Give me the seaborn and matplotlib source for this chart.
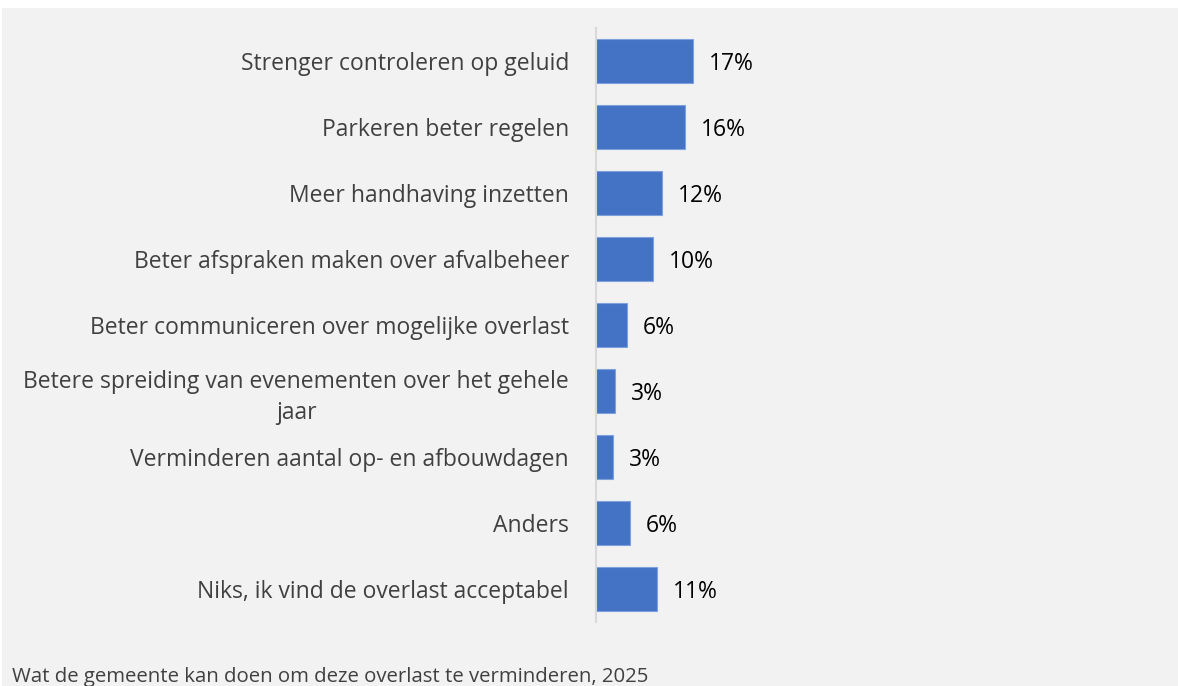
import matplotlib
matplotlib.use("Agg")
import matplotlib.pyplot as plt
import seaborn as sns
import pandas as pd
from matplotlib.patches import Rectangle

# Data
categories = [
    "Strenger controleren op geluid",
    "Parkeren beter regelen",
    "Meer handhaving inzetten",
    "Beter afspraken maken over afvalbeheer",
    "Beter communiceren over mogelijke overlast",
    "Betere spreiding van evenementen over het gehele\njaar",
    "Verminderen aantal op- en afbouwdagen",
    "Anders",
    "Niks, ik vind de overlast acceptabel",
]
values = [17.0, 15.6, 11.65, 10.0, 5.4, 3.3, 3.0, 5.9, 10.7]
value_labels = ["17%", "16%", "12%", "10%", "6%", "3%", "3%", "6%", "11%"]
footer = "Wat de gemeente kan doen om deze overlast te verminderen, 2025"

df = pd.DataFrame({"categorie": categories, "waarde": values})

sns.set_theme(style="white")
plt.rcParams["font.family"] = ["Open Sans", "DejaVu Sans"]

W, H = 1178, 686
fig = plt.figure(figsize=(W / 100, H / 100), dpi=100, facecolor="white")
fig.patches.append(Rectangle((2 / W, 0), 1, 1 - 8 / H, transform=fig.transFigure,
                             facecolor="#f2f2f2", edgecolor="none", zorder=-10))

left_px, top_px, bottom_px = 596, 28, 622
px_per_pct = 5.69
right_px = 1150
ax = fig.add_axes([left_px / W, 1 - bottom_px / H,
                   (right_px - left_px) / W, (bottom_px - top_px) / H])
ax.set_facecolor("none")

sns.barplot(data=df, x="waarde", y="categorie", orient="h", color="#4472C4",
            width=0.667, edgecolor="#7ea1de", linewidth=0.8, saturation=1, ax=ax)

ax.set_xlim(0, (right_px - left_px) / px_per_pct)
ax.set_ylim(len(categories) - 0.5, -0.5)
ax.set_xlabel("")
ax.set_ylabel("")
ax.set_xticks([])

for s in ["top", "right", "bottom"]:
    ax.spines[s].set_visible(False)
ax.spines["left"].set_color("#d9d9d9")
ax.spines["left"].set_linewidth(1.5)

ax.tick_params(axis="y", length=0, pad=19.5, labelsize=16.5, labelcolor="#404040")
for lbl in ax.get_yticklabels():
    lbl.set_multialignment("center")
    lbl.set_linespacing(1.4)

for i, (v, t) in enumerate(zip(values, value_labels)):
    ax.annotate(t, xy=(v, i), xytext=(11.5, 0), textcoords="offset points",
                ha="left", va="center_baseline", fontsize=16.5, color="black")

fig.text(12 / W, 1 - 682 / H, footer, ha="left", va="baseline",
         fontsize=14.7, color="#404040")

fig.savefig("out.png", dpi=100, facecolor=fig.get_facecolor())
